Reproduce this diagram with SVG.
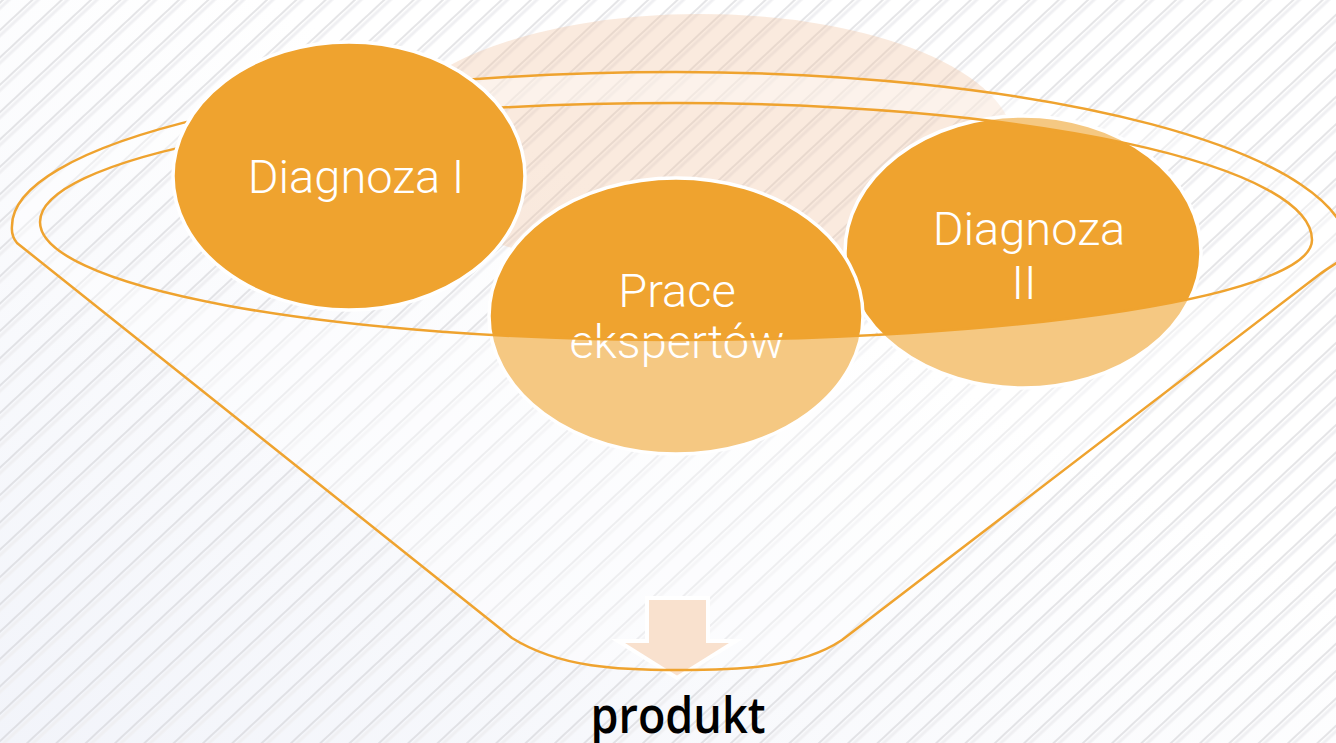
<svg xmlns="http://www.w3.org/2000/svg" width="1336" height="743" viewBox="0 0 1336 743">
  <defs>
    <pattern id="stripes" patternUnits="userSpaceOnUse" width="40" height="20" patternTransform="rotate(-43)">
      <line x1="0" y1="2" x2="40" y2="2" stroke="#CBCBCF" stroke-width="1"/>
      <line x1="0" y1="6" x2="40" y2="6" stroke="#EFEFF2" stroke-width="3"/>
    </pattern>
    <linearGradient id="bg" x1="0" y1="1" x2="1" y2="0">
      <stop offset="0" stop-color="#F2F4FA"/>
      <stop offset="0.6" stop-color="#FFFFFF"/>
    </linearGradient>
    <style>
      .circle { fill: #EFA32F; stroke: #FFFFFF; stroke-width: 3.5; }
      .label { font-family: Roboto, "Liberation Sans", sans-serif; font-weight: 300; font-size: 47px; fill: #FFFFFF; text-anchor: middle; }
      .funnel-line { fill: none; stroke: #EFA32F; stroke-width: 2.5; stroke-linejoin: round; }
      .product { font-family: "Open Sans", "Liberation Sans", sans-serif; font-weight: 600; font-size: 50px; fill: #000000; text-anchor: middle; }
    </style>
  </defs>

  <rect width="1336" height="743" fill="url(#bg)"/>
  <rect width="1336" height="743" fill="url(#stripes)"/>

  <g id="hidden-circle">
    <ellipse cx="700" cy="144" rx="314" ry="130" fill="#F2C3A0" fill-opacity="0.35"/>
  </g>

  <g id="node-diagnoza-2">
    <ellipse class="circle" cx="1023" cy="252" rx="178" ry="136"/>
    <text class="label" x="1029" y="245">Diagnoza</text>
    <text class="label" x="1024" y="299">II</text>
  </g>
  <g id="node-prace">
    <ellipse class="circle" cx="676" cy="316" rx="187" ry="138"/>
    <text class="label" x="677" y="307">Prace</text>
    <text class="label" x="677" y="358">ekspertów</text>
  </g>

  <g id="funnel-fill">
    <path fill="#FFFFFF" fill-opacity="0.4" fill-rule="evenodd"
      d="M512,638 L17,243 Q11,236 12,226 A664 154 0 0 1 676,72 A672 178 0 0 1 1348,250 C1348,258 1332,265 1320,274 L842,640 C800,668 740,670 677,670 C620,670 560,668 512,638 Z
         M40,222 A636 119 0 0 1 676,103 A636 137 0 0 1 1312,240 A636 100 0 0 1 676,340 A636 118 0 0 1 40,222 Z"/>
  </g>

  <g id="node-produkt-arrow">
    <path d="M647,598 H708 V641 H736 L677,678 L618,641 H647 Z" fill="#F9E1CE" stroke="#FFFFFF" stroke-width="4" stroke-linejoin="miter"/>
  </g>

  <g id="connectors">
    <path class="funnel-line" d="M512,638 L17,243 Q11,236 12,226 A664 154 0 0 1 676,72 A672 178 0 0 1 1348,250 C1348,258 1332,265 1320,274 L842,640 C800,668 740,670 677,670 C620,670 560,668 512,638 Z"/>
    <path class="funnel-line" d="M40,222 A636 119 0 0 1 676,103 A636 137 0 0 1 1312,240 A636 100 0 0 1 676,340 A636 118 0 0 1 40,222 Z"/>
  </g>

  <g id="node-diagnoza-1">
    <ellipse class="circle" cx="349" cy="176" rx="176" ry="134"/>
    <text class="label" x="356" y="193">Diagnoza I</text>
  </g>

  <g id="node-produkt">
    <text class="product" x="678" y="733" textLength="175" lengthAdjust="spacingAndGlyphs">produkt</text>
  </g>
</svg>
